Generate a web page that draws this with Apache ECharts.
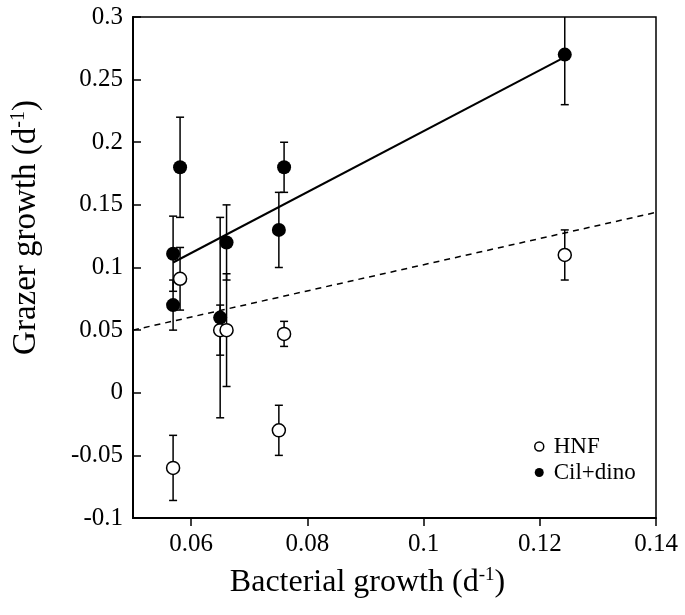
<!DOCTYPE html>
<html><head><meta charset="utf-8">
<script src="https://cdn.jsdelivr.net/npm/echarts@6/dist/echarts.min.js"></script>
<style>html,body{margin:0;padding:0;background:#fff}#c{width:685px;height:615px}</style>
</head><body><div id="c"></div>
<script>
// HNF (open circles)
const hnfX   = [0.0569, 0.0581, 0.0650, 0.0661, 0.0751, 0.0760, 0.1243];
const hnfY   = [-0.060, 0.091, 0.050, 0.050, -0.030, 0.047, 0.110];
const hnfErr = [0.026, 0.025, 0.020, 0.045, 0.020, 0.010, 0.020];
// Cil+dino (filled circles)
const cilX   = [0.0569, 0.0569, 0.0581, 0.0650, 0.0661, 0.0751, 0.0760, 0.1243];
const cilY   = [0.111, 0.070, 0.180, 0.060, 0.120, 0.130, 0.180, 0.270];
const cilErr = [0.030, 0.020, 0.040, 0.080, 0.030, 0.030, 0.020, 0.040];
// regression lines
const cilFitX = [0.0569, 0.1243];
const cilFitY = [0.104, 0.268];
const hnfFitX = [0.05, 0.14];
const hnfFitY = [0.050, 0.144];
const xTicks = [0.06, 0.08, 0.1, 0.12, 0.14];

const FONT = 'Liberation Serif';
const zip = (a, b) => a.map((v, i) => [v, b[i]]);
const errData = (xs, ys, es) => xs.map((x, i) => [x, ys[i] - es[i], ys[i] + es[i]]);

function errRender(params, api) {
  const x = api.value(0), lo = api.value(1), hi = api.value(2);
  const p1 = api.coord([x, lo]), p2 = api.coord([x, hi]);
  const w = 4;
  const st = { stroke: '#000', lineWidth: 1.5 };
  return { type: 'group', children: [
    { type: 'line', shape: { x1: p1[0], y1: p1[1], x2: p2[0], y2: p2[1] }, style: st },
    { type: 'line', shape: { x1: p1[0] - w, y1: p1[1], x2: p1[0] + w, y2: p1[1] }, style: st },
    { type: 'line', shape: { x1: p2[0] - w, y1: p2[1], x2: p2[0] + w, y2: p2[1] }, style: st }
  ]};
}

const chart = echarts.init(document.getElementById('c'), null, { renderer: 'canvas' });
chart.setOption({
  animation: false,
  backgroundColor: '#fff',
  textStyle: { fontFamily: FONT, color: '#000' },
  grid: { left: 133, right: 29, top: 17, bottom: 97, show: true, borderColor: '#000', borderWidth: 1.5, backgroundColor: 'transparent' },
  legend: {
    orient: 'vertical', left: 529, top: 430, itemGap: 3,
    itemWidth: 9, itemHeight: 9,
    textStyle: { fontFamily: FONT, fontSize: 23, color: '#000', padding: [0, 0, 0, 5] },
    data: [
      { name: 'HNF', icon: 'circle', itemStyle: { color: '#fff', borderColor: '#000', borderWidth: 1.5 } },
      { name: 'Cil+dino', icon: 'circle', itemStyle: { color: '#000' } }
    ]
  },
  xAxis: {
    type: 'value', min: 0.05, max: 0.14,
    name: 'Bacterial growth (d{sup|-1})', nameLocation: 'middle', nameGap: 48,
    nameTextStyle: { fontFamily: FONT, fontSize: 32, color: '#000', padding: [0, 54, 0, 0],
      rich: { sup: { fontFamily: FONT, fontSize: 19, verticalAlign: 'top', padding: [0, 0, 14, 0] } } },
    splitLine: { show: false },
    axisLine: { onZero: false, lineStyle: { color: '#000', width: 2 } },
    axisTick: { customValues: xTicks, length: 8, lineStyle: { color: '#000', width: 1.5 } },
    axisLabel: { customValues: xTicks, fontFamily: FONT, fontSize: 25, color: '#000', margin: 14 }
  },
  yAxis: {
    type: 'value', min: -0.1, max: 0.3, interval: 0.05,
    name: 'Grazer growth (d{sup|-1})', nameLocation: 'middle', nameGap: 90,
    nameTextStyle: { fontFamily: FONT, fontSize: 33, color: '#000', padding: [0, 0, 0, 80],
      rich: { sup: { fontFamily: FONT, fontSize: 20, verticalAlign: 'top', padding: [0, 0, 14, 0] } } },
    splitLine: { show: false },
    axisLine: { onZero: false, lineStyle: { color: '#000', width: 2 } },
    axisTick: { inside: true, length: 8, lineStyle: { color: '#000', width: 1.5 } },
    axisLabel: { fontFamily: FONT, fontSize: 25, color: '#000', margin: 10 }
  },
  series: [
    { type: 'line', data: zip(hnfFitX, hnfFitY), symbol: 'none', silent: true,
      lineStyle: { color: '#000', width: 1.5, type: [6, 5] }, z: 1 },
    { type: 'line', data: zip(cilFitX, cilFitY), symbol: 'none', silent: true,
      lineStyle: { color: '#000', width: 2 }, z: 1 },
    { type: 'custom', data: errData(hnfX, hnfY, hnfErr), renderItem: errRender, clip: true, z: 2,
      encode: { x: 0, y: [1, 2] } },
    { type: 'custom', data: errData(cilX, cilY, cilErr), renderItem: errRender, clip: true, z: 2,
      encode: { x: 0, y: [1, 2] } },
    { name: 'HNF', type: 'scatter', data: zip(hnfX, hnfY), symbol: 'circle', symbolSize: 13,
      itemStyle: { color: '#fff', borderColor: '#000', borderWidth: 1.5, opacity: 1 }, z: 3 },
    { name: 'Cil+dino', type: 'scatter', data: zip(cilX, cilY), symbol: 'circle', symbolSize: 14,
      itemStyle: { color: '#000', opacity: 1 }, z: 4 }
  ]
});
</script></body></html>
